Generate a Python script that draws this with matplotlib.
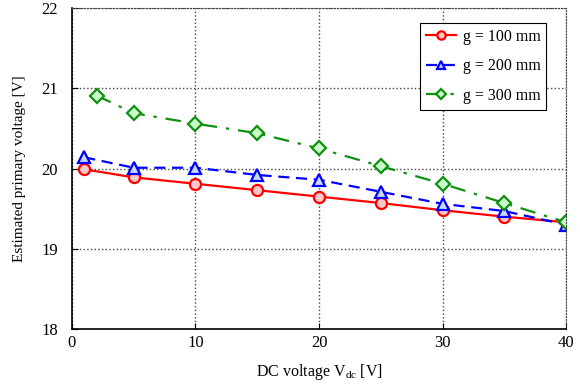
import matplotlib
matplotlib.use("Agg")
from matplotlib import pyplot as plt

x_100 = [1, 5, 10, 15, 20, 25, 30, 35, 40]
v_100 = [19.99, 19.89, 19.81, 19.73, 19.65, 19.57, 19.48, 19.40, 19.33]

x_200 = [1, 5, 10, 15, 20, 25, 30, 35, 40]
v_200 = [20.14, 20.01, 20.01, 19.92, 19.86, 19.71, 19.56, 19.47, 19.30]

x_300 = [2, 5, 10, 15, 20, 25, 30, 35, 40]
v_300 = [20.91, 20.69, 20.56, 20.44, 20.25, 20.03, 19.81, 19.57, 19.33]

labels = ["g = 100 mm", "g = 200 mm", "g = 300 mm"]

plt.rcParams["font.family"] = ["Liberation Serif", "DejaVu Serif"]
plt.rcParams["mathtext.fontset"] = "custom"
plt.rcParams["mathtext.rm"] = "Liberation Serif"
plt.rcParams["mathtext.it"] = "Liberation Serif:italic"

fig = plt.figure(figsize=(5.8, 3.85), dpi=100)
ax = fig.add_axes([0.124, 0.1455, 0.852, 0.8335])

ax.plot(x_100, v_100, color="red", linestyle="-", linewidth=1.6,
        marker="o", markersize=8, markerfacecolor="#ffc8c8",
        markeredgecolor="red", markeredgewidth=1.6, label=labels[0])
ax.plot(x_200, v_200, color="blue", linestyle=(0, (5, 3)), linewidth=1.6,
        marker="^", markersize=8, markerfacecolor="#c8d8ff",
        markeredgecolor="blue", markeredgewidth=1.6, label=labels[1])
ax.plot(x_300, v_300, color="#109010", linestyle=(0, (7, 4, 1.5, 4)), linewidth=1.6,
        marker="D", markersize=7, markerfacecolor="#c8ffc8",
        markeredgecolor="#109010", markeredgewidth=1.6, label=labels[2])

ax.set_xlim(0, 40)
ax.set_ylim(18, 22)
ax.set_xticks([0, 10, 20, 30, 40])
ax.set_yticks([18, 19, 20, 21, 22])
ax.tick_params(direction="in", length=4, labelsize=12)
ax.tick_params(axis="y", pad=10)
ax.tick_params(axis="x", pad=4)
ax.grid(True, linestyle=":", color="#444444", linewidth=1)

for side in ["top", "right"]:
    ax.spines[side].set_linestyle(":")
    ax.spines[side].set_color("#444444")
for side in ["left", "bottom"]:
    ax.spines[side].set_linewidth(1.2)

ax.set_xlabel("DC voltage V$_{\\mathrm{dc}}$ [V]", fontsize=11.5, labelpad=8)
ax.set_ylabel("Estimated primary voltage [V]", fontsize=11, labelpad=11)

leg = ax.legend(loc="upper right", bbox_to_anchor=(0.9595, 0.953), borderaxespad=0,
                fontsize=11.5, fancybox=False, framealpha=1, edgecolor="black",
                handlelength=1.9, handletextpad=0.4, labelspacing=0.85,
                borderpad=0.35, markerscale=0.75)
leg.get_frame().set_linewidth(0.8)

plt.savefig("out.png", dpi=100)
plt.close()
